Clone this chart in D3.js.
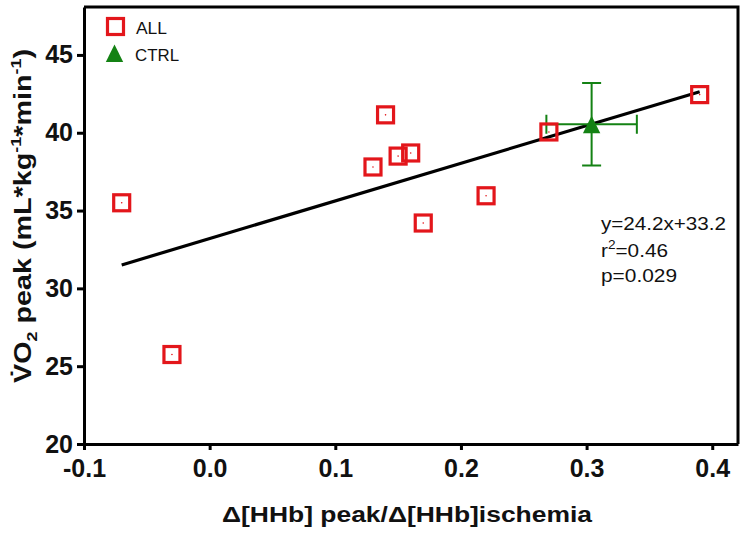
<!DOCTYPE html>
<html>
<head>
<meta charset="utf-8">
<script src="https://cdn.jsdelivr.net/npm/d3@7"></script>
<style>
  html, body { margin: 0; padding: 0; background: #fff; }
  svg { display: block; font-family: "Liberation Sans", Arial, sans-serif; }
</style>
</head>
<body>
<svg id="chart" width="747" height="536"></svg>
<script>
// ---- data ----
const allX = [-0.07, -0.03, 0.13, 0.14, 0.15, 0.16, 0.17, 0.22, 0.27, 0.39];
const allY = [35.5, 25.75, 37.8, 41.15, 38.5, 38.7, 34.2, 35.95, 40.05, 42.45];
const ctrlX = [0.304];
const ctrlY = [40.55];
const ctrlXErr = [0.036];
const ctrlYErr = [2.65];
const fitSlope = 24.2;
const fitIntercept = 33.2;
const fitRange = [-0.07, 0.39];
const xTicks = [-0.1, 0.0, 0.1, 0.2, 0.3, 0.4];
const xTickLabels = ["-0.1", "0.0", "0.1", "0.2", "0.3", "0.4"];
const yTicks = [20, 25, 30, 35, 40, 45];
const yTickLabels = ["20", "25", "30", "35", "40", "45"];
const legendLabels = ["ALL", "CTRL"];
const statsLines = ["y=24.2x+33.2", "r²=0.46", "p=0.029"];

// ---- layout ----
const svg = d3.select("#chart");
const L = 84, R = 738, T = 7, B = 444;
const x = d3.scaleLinear().domain([-0.1, 0.4205]).range([L, R]);
const y = d3.scaleLinear().domain([20, 48.08]).range([B, T]);
const RED = "#e3161b", GREEN = "#148214";

// axes
const xAxis = d3.axisBottom(x).tickValues(xTicks)
  .tickFormat((d, i) => xTickLabels[i]).tickSize(6).tickSizeOuter(0).tickPadding(9);
const gx = svg.append("g").attr("transform", `translate(0,${B})`).call(xAxis);
gx.selectAll("text").attr("font-size", 25).attr("font-weight", "bold")
  .attr("fill", "#111").attr("font-family", "Liberation Sans, Arial, sans-serif");

const yAxis = d3.axisLeft(y).tickValues(yTicks)
  .tickFormat((d, i) => yTickLabels[i]).tickSize(7).tickSizeOuter(0).tickPadding(4);
const gy = svg.append("g").attr("transform", `translate(${L},0)`).call(yAxis);
gy.selectAll("text").attr("font-size", 25).attr("font-weight", "bold")
  .attr("fill", "#111").attr("font-family", "Liberation Sans, Arial, sans-serif");

svg.selectAll(".domain").attr("stroke", "#000").attr("stroke-width", 3);
svg.selectAll(".tick line").attr("stroke", "#000").attr("stroke-width", 3);

// box top & right
svg.append("path").attr("d", `M${L},${T}H${R}V${B}`)
  .attr("fill", "none").attr("stroke", "#000").attr("stroke-width", 3);

// regression line
svg.append("line")
  .attr("x1", x(fitRange[0])).attr("y1", y(fitSlope * fitRange[0] + fitIntercept))
  .attr("x2", x(fitRange[1])).attr("y2", y(fitSlope * fitRange[1] + fitIntercept))
  .attr("stroke", "#000").attr("stroke-width", 3.2);

// CTRL error bars
const ctrl = ctrlX.map((v, i) => ({ x: v, y: ctrlY[i], ex: ctrlXErr[i], ey: ctrlYErr[i] }));
const eg = svg.append("g").attr("stroke", GREEN).attr("stroke-width", 2).attr("fill", "none");
ctrl.forEach(d => {
  const cx = x(d.x), cy = y(d.y);
  const cap = 9.5;
  eg.append("path").attr("d",
    `M${cx},${y(d.y + d.ey)}V${y(d.y - d.ey)}` +
    `M${cx - cap},${y(d.y + d.ey)}H${cx + cap}` +
    `M${cx - cap},${y(d.y - d.ey)}H${cx + cap}` +
    `M${x(d.x - d.ex)},${cy}H${x(d.x + d.ex)}` +
    `M${x(d.x - d.ex)},${cy - cap}V${cy + cap}` +
    `M${x(d.x + d.ex)},${cy - cap}V${cy + cap}`);
});

// triangle path helper
const tri = (cx, cy) => `M${cx},${cy - 9.5}L${cx + 8.7},${cy + 8}L${cx - 8.7},${cy + 8}Z`;
svg.selectAll(".ctrlpt").data(ctrl).join("path")
  .attr("d", d => tri(x(d.x), y(d.y) + 1)).attr("fill", GREEN);

// ALL squares
const all = allX.map((v, i) => ({ x: v, y: allY[i] }));
const sq = svg.append("g");
sq.selectAll("rect").data(all).join("rect")
  .attr("x", d => x(d.x) - 8).attr("y", d => y(d.y) - 8)
  .attr("width", 16).attr("height", 16)
  .attr("fill", "none").attr("stroke", RED).attr("stroke-width", 3.2);
sq.selectAll("circle").data(all).join("circle")
  .attr("cx", d => x(d.x)).attr("cy", d => y(d.y)).attr("r", 0.8).attr("fill", RED);

// legend
svg.append("rect").attr("x", 107.5).attr("y", 18.5).attr("width", 16).attr("height", 16)
  .attr("fill", "none").attr("stroke", RED).attr("stroke-width", 3.2);
svg.append("path").attr("d", tri(114.5, 54)).attr("fill", GREEN);
svg.append("text").attr("x", 136).attr("y", 33.5).attr("font-size", 16)
  .attr("textLength", 31).attr("lengthAdjust", "spacingAndGlyphs").attr("fill", "#111")
  .text(legendLabels[0]);
svg.append("text").attr("x", 135).attr("y", 60.5).attr("font-size", 16)
  .attr("textLength", 44).attr("lengthAdjust", "spacingAndGlyphs").attr("fill", "#111")
  .text(legendLabels[1]);

// stats text
const st = svg.append("g").attr("font-size", 19).attr("fill", "#111");
st.append("text").attr("x", 601).attr("y", 230)
  .attr("textLength", 125).attr("lengthAdjust", "spacingAndGlyphs").text(statsLines[0]);
const r2 = st.append("text").attr("x", 601).attr("y", 256.5)
  .attr("textLength", 67).attr("lengthAdjust", "spacingAndGlyphs");
r2.append("tspan").text("r");
r2.append("tspan").attr("font-size", 12.5).attr("dy", -7.5).text("2");
r2.append("tspan").attr("dy", 7.5).text("=0.46");
st.append("text").attr("x", 601).attr("y", 281.5)
  .attr("textLength", 76).attr("lengthAdjust", "spacingAndGlyphs").text(statsLines[2]);

// x title
svg.append("text").attr("x", 407).attr("y", 522).attr("text-anchor", "middle")
  .attr("font-size", 22).attr("font-weight", "bold").attr("fill", "#111")
  .attr("textLength", 370).attr("lengthAdjust", "spacingAndGlyphs")
  .text("Δ[HHb] peak/Δ[HHb]ischemia");

// y title
const yt = svg.append("text").attr("transform", "translate(31,216) rotate(-90)")
  .attr("text-anchor", "middle").attr("font-size", 24).attr("font-weight", "bold")
  .attr("fill", "#111").attr("textLength", 334).attr("lengthAdjust", "spacingAndGlyphs");
yt.append("tspan").text("V\u0307O");
yt.append("tspan").attr("font-size", 15).attr("dy", 6).text("2");
yt.append("tspan").attr("dy", -6).text(" peak (mL*kg");
yt.append("tspan").attr("font-size", 15).attr("dy", -10).text("-1");
yt.append("tspan").attr("dy", 10).text("*min");
yt.append("tspan").attr("font-size", 15).attr("dy", -10).text("-1");
yt.append("tspan").attr("dy", 10).text(")");
</script>
</body>
</html>
